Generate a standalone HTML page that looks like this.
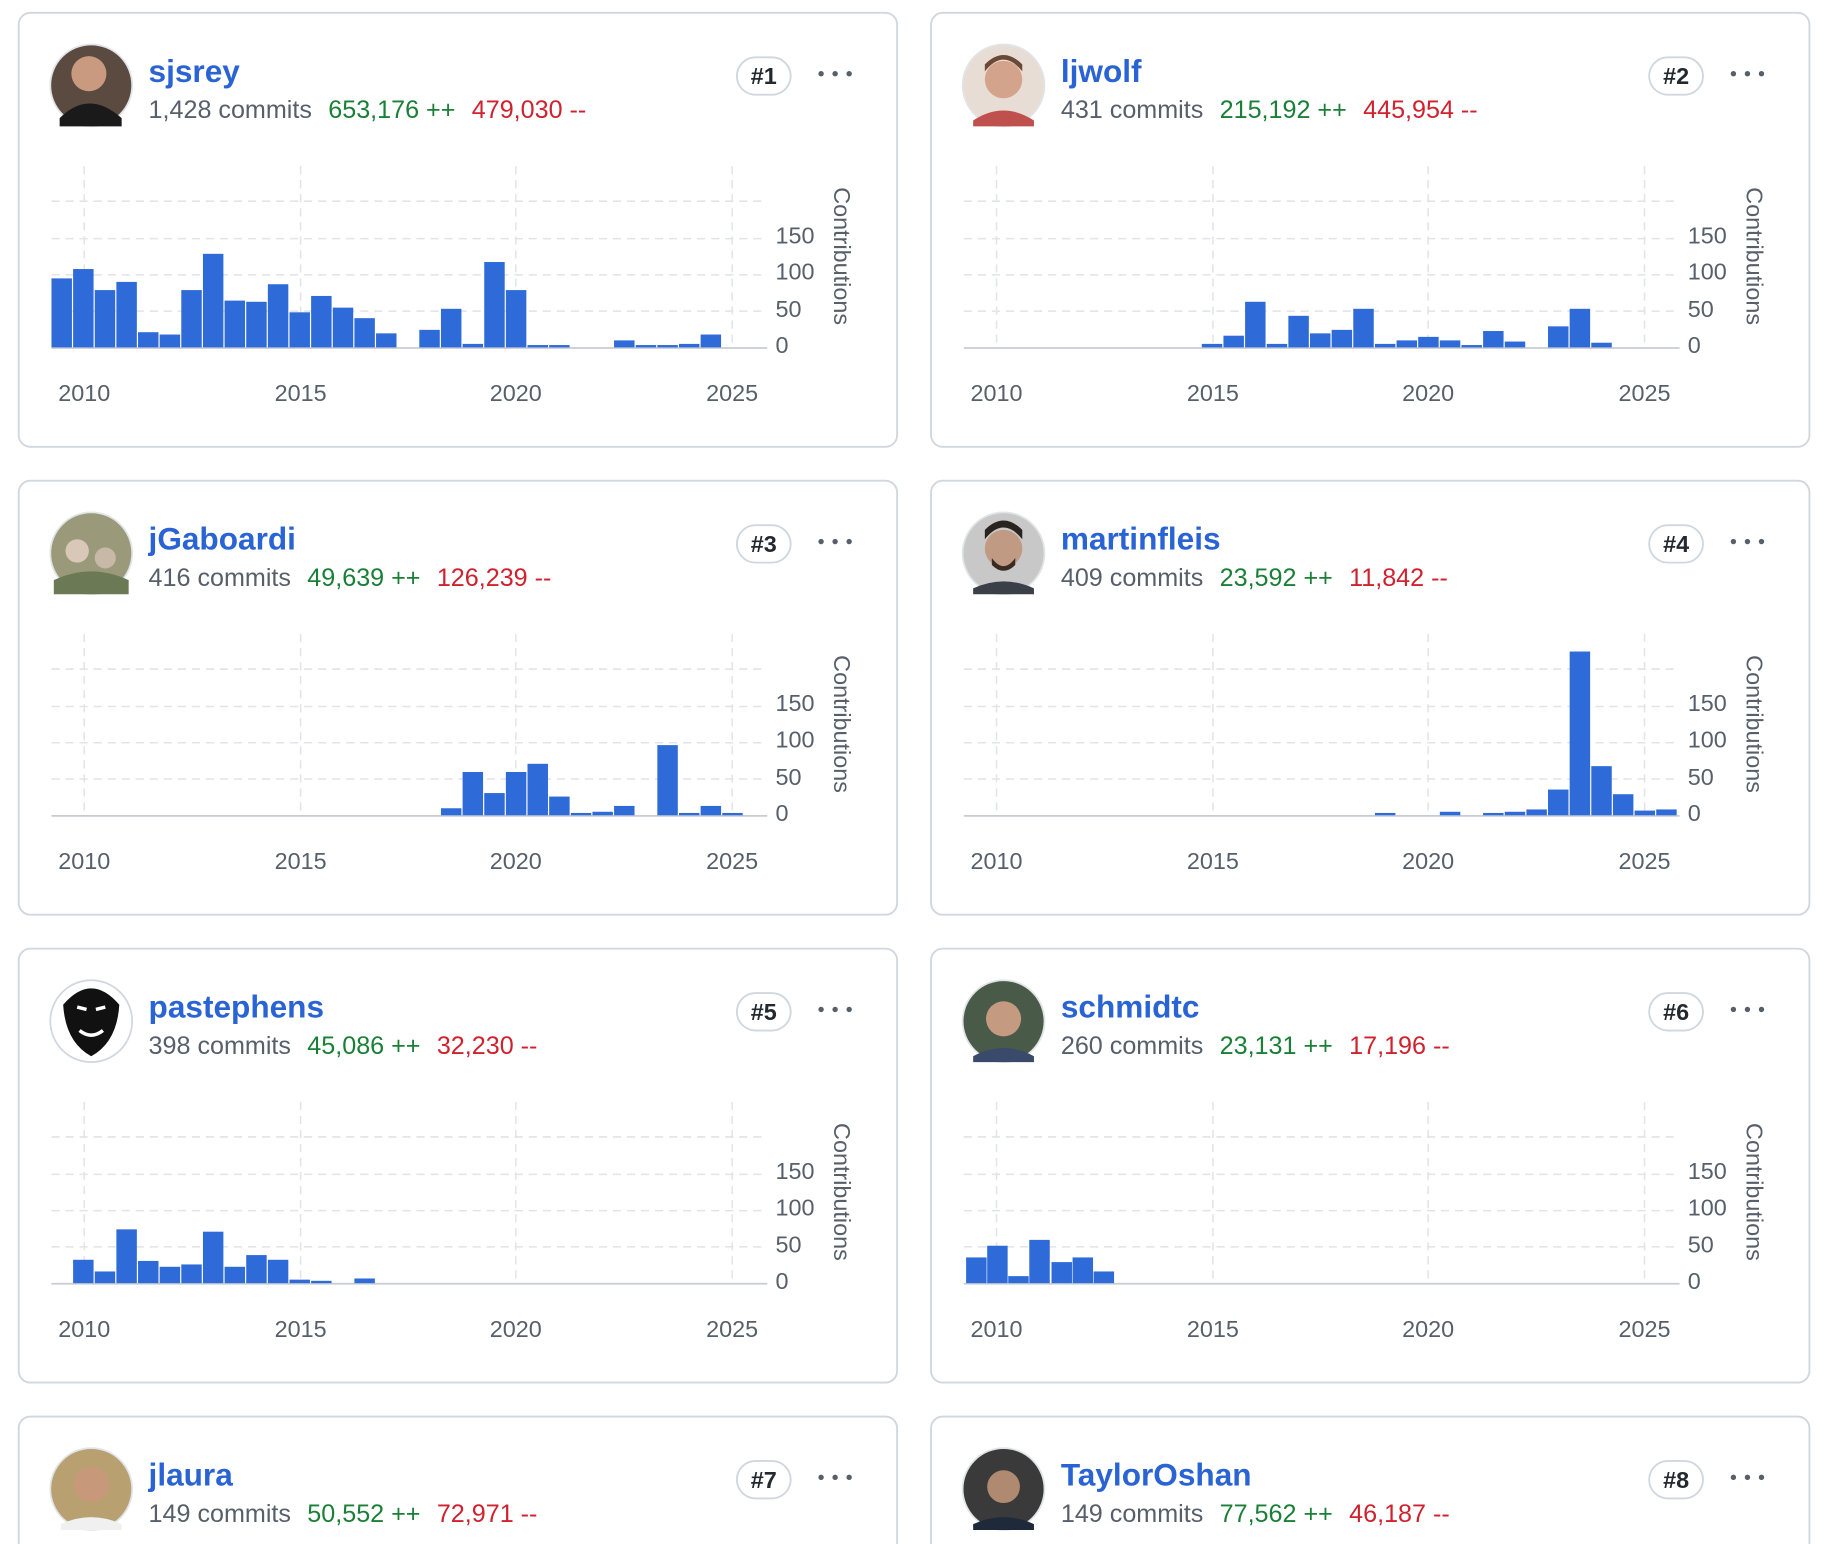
<!DOCTYPE html>
<html><head><meta charset="utf-8"><style>
html,body{margin:0;padding:0;background:#fff;overflow:hidden;}
svg{display:block;font-family:"Liberation Sans",sans-serif;}
.card{fill:#fff;stroke:#d0d7de;stroke-width:1.6}
.nm{font-size:27px;font-weight:bold;fill:#2a63d4}
.st{font-size:21.5px;fill:#57606a}
.g{fill:#1a7f37}.r{fill:#cf222e}
.bd{fill:#fff;stroke:#d0d7de;stroke-width:1.6}
.bt{font-size:20px;font-weight:bold;fill:#24292f;text-anchor:middle}
.gr{stroke:#e1e4e8;stroke-width:1.3;stroke-dasharray:7 5}
.ax{stroke:#c8ccd2;stroke-width:1.5}
.yl{font-size:20px;fill:#57606a}
.xl{font-size:20px;fill:#57606a;text-anchor:middle}
.b{fill:#2f6bd8}
</style></head><body>
<svg width="1834" height="1544" viewBox="0 0 1568 1320" preserveAspectRatio="none" xmlns="http://www.w3.org/2000/svg">
<defs>
<g id="chart">
<line class="gr" x1="56" y1="131" x2="56" y2="286"/><line class="gr" x1="241" y1="131" x2="241" y2="286"/><line class="gr" x1="425" y1="131" x2="425" y2="286"/><line class="gr" x1="610" y1="131" x2="610" y2="286"/>
<line class="gr" x1="28" y1="161" x2="640" y2="161"/><line class="gr" x1="28" y1="193" x2="640" y2="193"/><line class="gr" x1="28" y1="224" x2="640" y2="224"/><line class="gr" x1="28" y1="255" x2="640" y2="255"/>
<line class="ax" x1="28" y1="286.5" x2="640" y2="286.5"/>
<text class="yl" x="647" y="197">150</text><text class="yl" x="647" y="228">100</text><text class="yl" x="647" y="260">50</text><text class="yl" x="647" y="291">0</text>
<text class="xl" x="56" y="332">2010</text><text class="xl" x="241" y="332">2015</text><text class="xl" x="425" y="332">2020</text><text class="xl" x="610" y="332">2025</text>
<text class="yl" transform="translate(697,208) rotate(90)" text-anchor="middle">Contributions</text>
<rect class="bd" x="614" y="38" width="46" height="32" rx="16"/>
<circle cx="686" cy="52" r="2.3" fill="#57606a"/><circle cx="698" cy="52" r="2.3" fill="#57606a"/><circle cx="710" cy="52" r="2.3" fill="#57606a"/>
</g>
<g id="hdr">
<rect class="bd" x="614" y="38" width="46" height="32" rx="16"/>
<circle cx="686" cy="52" r="2.3" fill="#57606a"/><circle cx="698" cy="52" r="2.3" fill="#57606a"/><circle cx="710" cy="52" r="2.3" fill="#57606a"/>
</g>
</defs>

<!-- Card 1 -->
<g transform="translate(16,11)">
<rect class="card" x="0" y="0" width="751" height="371" rx="10"/>
<use href="#chart"/>
<circle cx="62" cy="62" r="35" fill="#5a4a40" stroke="#e1e4e8" stroke-width="1.5"/><circle cx="60" cy="52" r="15" fill="#c99a80"/><path d="M35 90 Q60 65 88 90 L88 97 L35 97Z" fill="#1a1a1a"/>
<text class="nm" x="111" y="59">sjsrey</text>
<text class="st" x="111" y="90">1,428 commits <tspan class="g" dx="8">653,176 ++</tspan> <tspan class="r" dx="8">479,030 --</tspan></text>
<text class="bt" x="637" y="61">#1</text>
<g class="b">
<rect x="28" y="227" width="17.5" height="59"/><rect x="46.5" y="219" width="17.5" height="67"/><rect x="65" y="237" width="17.5" height="49"/><rect x="83.5" y="230" width="17.5" height="56"/><rect x="102" y="273" width="17.5" height="13"/><rect x="120.5" y="275" width="17.5" height="11"/><rect x="139" y="237" width="17.5" height="49"/><rect x="157.5" y="206" width="17.5" height="80"/><rect x="176" y="246" width="17.5" height="40"/><rect x="194.5" y="247" width="17.5" height="39"/><rect x="213" y="232" width="17.5" height="54"/><rect x="231.5" y="256" width="17.5" height="30"/><rect x="250" y="242" width="17.5" height="44"/><rect x="268.5" y="252" width="17.5" height="34"/><rect x="287" y="261" width="17.5" height="25"/><rect x="305.5" y="274" width="17.5" height="12"/><rect x="342.5" y="271" width="17.5" height="15"/><rect x="361" y="253" width="17.5" height="33"/><rect x="379.5" y="283" width="17.5" height="3"/><rect x="398" y="213" width="17.5" height="73"/><rect x="416.5" y="237" width="17.5" height="49"/><rect x="435" y="284" width="17.5" height="2"/><rect x="453.5" y="284" width="17.5" height="2"/><rect x="509" y="280" width="17.5" height="6"/><rect x="527.5" y="284" width="17.5" height="2"/><rect x="546" y="284" width="17.5" height="2"/><rect x="564.5" y="283" width="17.5" height="3"/><rect x="583" y="275" width="17.5" height="11"/>
</g>
</g>

<!-- Card 2 -->
<g transform="translate(796,11)">
<rect class="card" x="0" y="0" width="751" height="371" rx="10"/>
<use href="#chart"/>
<circle cx="62" cy="62" r="35" fill="#e8ddd5" stroke="#e1e4e8" stroke-width="1.5"/><circle cx="62" cy="57" r="16" fill="#d4a38c"/><path d="M46 50 Q62 30 78 50 L78 44 Q62 28 46 44Z" fill="#6b4a35"/><path d="M36 92 Q62 75 88 92 L88 97 L36 97Z" fill="#c0504d"/>
<text class="nm" x="111" y="59">ljwolf</text>
<text class="st" x="111" y="90">431 commits <tspan class="g" dx="8">215,192 ++</tspan> <tspan class="r" dx="8">445,954 --</tspan></text>
<text class="bt" x="637" y="61">#2</text>
<g class="b">
<rect x="231.5" y="283" width="17.5" height="3"/><rect x="250" y="276" width="17.5" height="10"/><rect x="268.5" y="247" width="17.5" height="39"/><rect x="287" y="283" width="17.5" height="3"/><rect x="305.5" y="259" width="17.5" height="27"/><rect x="324" y="274" width="17.5" height="12"/><rect x="342.5" y="271" width="17.5" height="15"/><rect x="361" y="253" width="17.5" height="33"/><rect x="379.5" y="283" width="17.5" height="3"/><rect x="398" y="280" width="17.5" height="6"/><rect x="416.5" y="277" width="17.5" height="9"/><rect x="435" y="280" width="17.5" height="6"/><rect x="453.5" y="284" width="17.5" height="2"/><rect x="472" y="272" width="17.5" height="14"/><rect x="490.5" y="281" width="17.5" height="5"/><rect x="527.5" y="268" width="17.5" height="18"/><rect x="546" y="253" width="17.5" height="33"/><rect x="564.5" y="282" width="17.5" height="4"/>
</g>
</g>

<!-- Card 3 -->
<g transform="translate(16,411)">
<rect class="card" x="0" y="0" width="751" height="371" rx="10"/>
<use href="#chart"/>
<circle cx="62" cy="62" r="35" fill="#9a9a7a" stroke="#e1e4e8" stroke-width="1.5"/><circle cx="50" cy="60" r="10" fill="#d9c8b8"/><circle cx="74" cy="66" r="9" fill="#c8b8a8"/><path d="M30 85 Q62 70 94 85 L94 97 L30 97Z" fill="#6b7a55"/>
<text class="nm" x="111" y="59">jGaboardi</text>
<text class="st" x="111" y="90">416 commits <tspan class="g" dx="8">49,639 ++</tspan> <tspan class="r" dx="8">126,239 --</tspan></text>
<text class="bt" x="637" y="61">#3</text>
<g class="b">
<rect x="361" y="280" width="17.5" height="6"/><rect x="379.5" y="249" width="17.5" height="37"/><rect x="398" y="267" width="17.5" height="19"/><rect x="416.5" y="249" width="17.5" height="37"/><rect x="435" y="242" width="17.5" height="44"/><rect x="453.5" y="270" width="17.5" height="16"/><rect x="472" y="284" width="17.5" height="2"/><rect x="490.5" y="283" width="17.5" height="3"/><rect x="509" y="278" width="17.5" height="8"/><rect x="546" y="226" width="17.5" height="60"/><rect x="564.5" y="284" width="17.5" height="2"/><rect x="583" y="278" width="17.5" height="8"/><rect x="601.5" y="284" width="17.5" height="2"/>
</g>
</g>

<!-- Card 4 -->
<g transform="translate(796,411)">
<rect class="card" x="0" y="0" width="751" height="371" rx="10"/>
<use href="#chart"/>
<circle cx="62" cy="62" r="35" fill="#c8c8c8" stroke="#e1e4e8" stroke-width="1.5"/><circle cx="62" cy="58" r="16" fill="#c09a82"/><path d="M46 50 Q62 30 78 50 L78 42 Q62 26 46 42Z" fill="#2a2420"/><path d="M52 66 Q62 80 72 66 L72 72 Q62 82 52 72Z" fill="#3a2a22"/><path d="M36 92 Q62 80 88 92 L88 97 L36 97Z" fill="#3a3f48"/>
<text class="nm" x="111" y="59">martinfleis</text>
<text class="st" x="111" y="90">409 commits <tspan class="g" dx="8">23,592 ++</tspan> <tspan class="r" dx="8">11,842 --</tspan></text>
<text class="bt" x="637" y="61">#4</text>
<g class="b">
<rect x="379.5" y="284" width="17.5" height="2"/><rect x="435" y="283" width="17.5" height="3"/><rect x="472" y="284" width="17.5" height="2"/><rect x="490.5" y="283" width="17.5" height="3"/><rect x="509" y="281" width="17.5" height="5"/><rect x="527.5" y="264" width="17.5" height="22"/><rect x="546" y="146" width="17.5" height="140"/><rect x="564.5" y="244" width="17.5" height="42"/><rect x="583" y="268" width="17.5" height="18"/><rect x="601.5" y="282" width="17.5" height="4"/><rect x="620" y="281" width="17.5" height="5"/>
</g>
</g>

<!-- Card 5 -->
<g transform="translate(16,811)">
<rect class="card" x="0" y="0" width="751" height="371" rx="10"/>
<use href="#chart"/>
<circle cx="62" cy="62" r="35" fill="#fff" stroke="#d0d7de" stroke-width="1.5"/><path d="M38 48 Q62 20 86 48 Q84 80 62 92 Q40 80 38 48Z" fill="#111"/><path d="M50 50 L58 52 M66 52 L74 50 M52 70 Q62 78 72 70" stroke="#fff" stroke-width="3" fill="none"/>
<text class="nm" x="111" y="59">pastephens</text>
<text class="st" x="111" y="90">398 commits <tspan class="g" dx="8">45,086 ++</tspan> <tspan class="r" dx="8">32,230 --</tspan></text>
<text class="bt" x="637" y="61">#5</text>
<g class="b">
<rect x="46.5" y="266" width="17.5" height="20"/><rect x="65" y="276" width="17.5" height="10"/><rect x="83.5" y="240" width="17.5" height="46"/><rect x="102" y="267" width="17.5" height="19"/><rect x="120.5" y="272" width="17.5" height="14"/><rect x="139" y="270" width="17.5" height="16"/><rect x="157.5" y="242" width="17.5" height="44"/><rect x="176" y="272" width="17.5" height="14"/><rect x="194.5" y="262" width="17.5" height="24"/><rect x="213" y="266" width="17.5" height="20"/><rect x="231.5" y="283" width="17.5" height="3"/><rect x="250" y="284" width="17.5" height="2"/><rect x="287" y="282" width="17.5" height="4"/>
</g>
</g>

<!-- Card 6 -->
<g transform="translate(796,811)">
<rect class="card" x="0" y="0" width="751" height="371" rx="10"/>
<use href="#chart"/>
<circle cx="62" cy="62" r="35" fill="#4a5a48" stroke="#e1e4e8" stroke-width="1.5"/><circle cx="62" cy="60" r="15" fill="#c49a80"/><path d="M36 92 Q62 78 88 92 L88 97 L36 97Z" fill="#3a4a6a"/>
<text class="nm" x="111" y="59">schmidtc</text>
<text class="st" x="111" y="90">260 commits <tspan class="g" dx="8">23,131 ++</tspan> <tspan class="r" dx="8">17,196 --</tspan></text>
<text class="bt" x="637" y="61">#6</text>
<g class="b">
<rect x="30" y="264" width="17.5" height="22"/><rect x="48" y="254" width="17.5" height="32"/><rect x="66" y="280" width="17.5" height="6"/><rect x="84" y="249" width="17.5" height="37"/><rect x="103" y="268" width="17.5" height="18"/><rect x="121" y="264" width="17.5" height="22"/><rect x="139" y="276" width="17.5" height="10"/>
</g>
</g>

<!-- Card 7 -->
<g transform="translate(16,1211)">
<rect class="card" x="0" y="0" width="751" height="371" rx="10"/>
<use href="#hdr"/>
<circle cx="62" cy="62" r="35" fill="#b8a070" stroke="#e1e4e8" stroke-width="1.5"/><circle cx="62" cy="58" r="15" fill="#c8987a"/><path d="M36 92 Q62 80 88 92 L88 97 L36 97Z" fill="#f0f0f0"/>
<text class="nm" x="111" y="59">jlaura</text>
<text class="st" x="111" y="90">149 commits <tspan class="g" dx="8">50,552 ++</tspan> <tspan class="r" dx="8">72,971 --</tspan></text>
<text class="bt" x="637" y="61">#7</text>
</g>

<!-- Card 8 -->
<g transform="translate(796,1211)">
<rect class="card" x="0" y="0" width="751" height="371" rx="10"/>
<use href="#hdr"/>
<circle cx="62" cy="62" r="35" fill="#3a3a3a" stroke="#e1e4e8" stroke-width="1.5"/><circle cx="62" cy="60" r="14" fill="#b08a70"/><path d="M36 92 Q62 80 88 92 L88 97 L36 97Z" fill="#1e2a3a"/>
<text class="nm" x="111" y="59">TaylorOshan</text>
<text class="st" x="111" y="90">149 commits <tspan class="g" dx="8">77,562 ++</tspan> <tspan class="r" dx="8">46,187 --</tspan></text>
<text class="bt" x="637" y="61">#8</text>
</g>
</svg>
</body></html>
